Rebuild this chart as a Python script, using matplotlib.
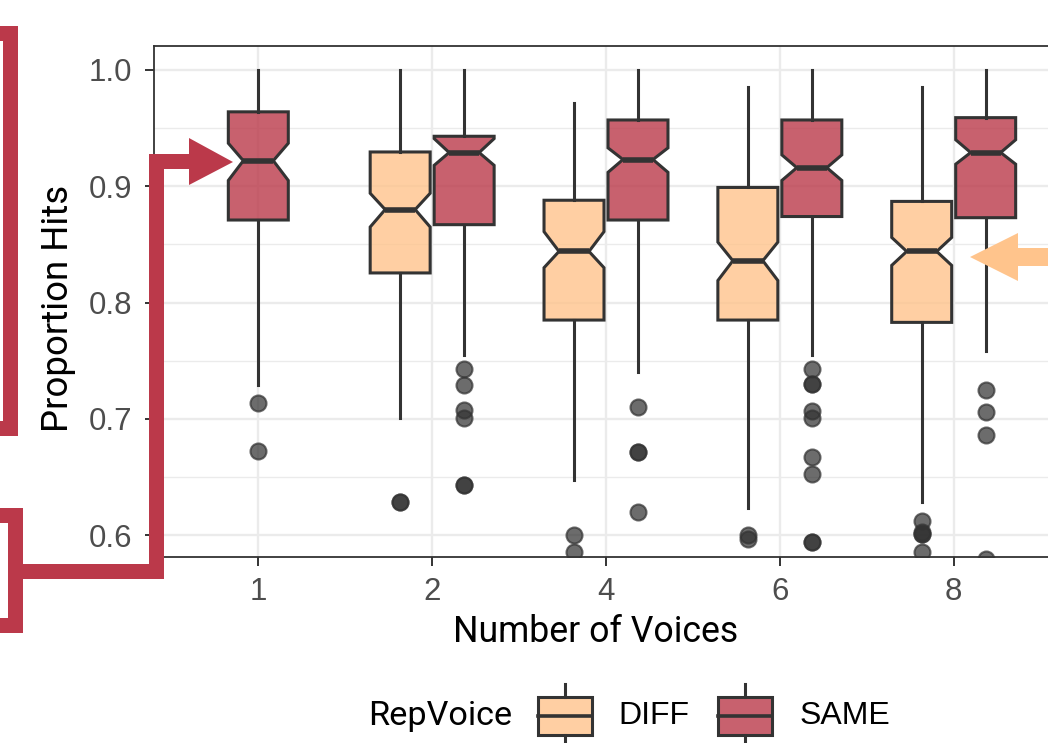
import matplotlib
matplotlib.use("Agg")
import matplotlib.pyplot as plt
from matplotlib.colors import to_rgba
from matplotlib.transforms import Affine2D
from matplotlib.patches import Polygon, Rectangle
from matplotlib.lines import Line2D

# ---------------- data ----------------
voices = ["1", "2", "4", "6", "8"]
groups = ["DIFF", "SAME"]

# SAME series (one box per number of voices)
same_med    = [0.922, 0.929, 0.923, 0.916, 0.929]
same_q1     = [0.871, 0.867, 0.871, 0.874, 0.873]
same_q3     = [0.964, 0.943, 0.957, 0.957, 0.959]
same_cilo   = [0.905, 0.918, 0.912, 0.905, 0.919]
same_cihi   = [0.937, 0.941, 0.933, 0.927, 0.940]
same_whislo = [0.729, 0.755, 0.740, 0.755, 0.758]
same_whishi = [1.000, 1.000, 1.000, 1.000, 1.000]
same_fliers = [
    [0.714, 0.672],
    [0.743, 0.729, 0.708, 0.701, 0.643, 0.643],
    [0.710, 0.6715, 0.6715, 0.620],
    [0.743, 0.730, 0.730, 0.707, 0.701, 0.667, 0.653, 0.594, 0.594],
    [0.725, 0.706, 0.686, 0.580],
]

# DIFF series (no box for 1 voice)
diff_voices = ["2", "4", "6", "8"]
diff_med    = [0.880, 0.844, 0.836, 0.844]
diff_q1     = [0.8255, 0.785, 0.785, 0.783]
diff_q3     = [0.9295, 0.888, 0.899, 0.887]
diff_cilo   = [0.865, 0.830, 0.819, 0.832]
diff_cihi   = [0.894, 0.861, 0.852, 0.856]
diff_whislo = [0.701, 0.6475, 0.623, 0.629]
diff_whishi = [1.000, 0.972, 0.985, 0.985]
diff_fliers = [
    [0.629, 0.629],
    [0.600, 0.586],
    [0.600, 0.597],
    [0.612, 0.603, 0.601, 0.601, 0.586],
]

yticks = [0.6, 0.7, 0.8, 0.9, 1.0]
ytick_labels = ["0.6", "0.7", "0.8", "0.9", "1.0"]

# ---------------- style ----------------
RED = "#BB394A"
ORANGE = "#FFC48C"
EDGE = "#333333"
W, H = 1048, 743
TITLE_FONT = ["Roboto", "DejaVu Sans"]
TICK_FONT = ["Liberation Sans", "DejaVu Sans"]

fig = plt.figure(figsize=(W / 100, H / 100), dpi=100)
pix = Affine2D().scale(1 / W, -1 / H).translate(0, 1) + fig.transFigure

ax_left, ax_right, ax_top, ax_bot = 154, 1058, 46, 557
ax = fig.add_axes([ax_left / W, (H - ax_bot) / H,
                   (ax_right - ax_left) / W, (ax_bot - ax_top) / H])

xpos = {v: i + 1 for i, v in enumerate(voices)}
offset = 0.184
bw = 0.345


def make_stats(med, q1, q3, cilo, cihi, wlo, whi, fl):
    return [dict(med=m, q1=a, q3=b, cilo=c, cihi=d, whislo=e, whishi=f, fliers=g)
            for m, a, b, c, d, e, f, g in zip(med, q1, q3, cilo, cihi, wlo, whi, fl)]


def draw(stats, positions, color):
    ax.bxp(stats, positions=positions, widths=bw, shownotches=True,
           patch_artist=True, showcaps=False,
           boxprops=dict(facecolor=to_rgba(color, 0.8), edgecolor=EDGE, linewidth=2.2),
           whiskerprops=dict(color=EDGE, linewidth=2.2),
           medianprops=dict(color=EDGE, linewidth=4.0, solid_capstyle="butt"),
           flierprops=dict(marker="o", markerfacecolor=EDGE, markeredgecolor=EDGE,
                           markersize=11.5, alpha=0.72, linestyle="none",
                           markeredgewidth=1.5),
           manage_ticks=False, zorder=3)


same_stats = make_stats(same_med, same_q1, same_q3, same_cilo, same_cihi,
                        same_whislo, same_whishi, same_fliers)
diff_stats = make_stats(diff_med, diff_q1, diff_q3, diff_cilo, diff_cihi,
                        diff_whislo, diff_whishi, diff_fliers)

same_pos = [xpos[v] + (offset if v in diff_voices else 0.0) for v in voices]
diff_pos = [xpos[v] - offset for v in diff_voices]

draw(diff_stats, diff_pos, ORANGE)
draw(same_stats, same_pos, RED)

ax.set_xlim(0.4, 5.6)
ax.set_ylim(0.5813, 1.0206)
ax.set_xticks(range(1, len(voices) + 1))
ax.set_xticklabels(voices)
ax.set_yticks(yticks)
ax.set_yticklabels(ytick_labels)
ax.set_yticks([0.65, 0.75, 0.85, 0.95], minor=True)
ax.grid(True, which="major", color="#EBEBEB", linewidth=1.7, zorder=0)
ax.grid(True, which="minor", axis="y", color="#EBEBEB", linewidth=1.0, zorder=0)
ax.set_axisbelow(True)
ax.tick_params(axis="both", which="major", colors=EDGE, width=1.4, length=6.5,
               labelsize=22.5, labelcolor="#4D4D4D")
ax.tick_params(axis="x", pad=8)
ax.tick_params(axis="y", pad=9)
ax.tick_params(which="minor", length=0)
for lab in ax.get_xticklabels() + ax.get_yticklabels():
    lab.set_fontfamily(TICK_FONT)
for s in ax.spines.values():
    s.set_color(EDGE)
    s.set_linewidth(1.3)

renderer = fig.canvas.get_renderer()


def fit_text(x, y, s, target_w, **kw):
    t = fig.text(x, y, s, fontsize=30, family=TITLE_FONT, **kw)
    bb = t.get_window_extent(renderer)
    span = bb.height if kw.get("rotation") == 90 else bb.width
    t.set_fontsize(30 * target_w / span)
    return t


# axis titles (placed to match the reference)
fit_text(595.5 / W, 1 - 632 / H, "Number of Voices", 285, ha="center", va="center")
fit_text(58 / W, 1 - 308.5 / H, "Proportion Hits", 247, ha="center", va="center",
         rotation=90)

# ---------------- legend (drawn by hand) ----------------
fit_text(368 / W, 1 - 716 / H, "RepVoice", 144, ha="left", va="center")
for key_x, color, label, text_x in [(538, ORANGE, "DIFF", 618), (718, RED, "SAME", 800)]:
    fig.add_artist(Rectangle((key_x, 697), 54, 38, transform=pix,
                             facecolor=to_rgba(color, 0.8), edgecolor=EDGE,
                             linewidth=2.2, zorder=5))
    cx = key_x + 27
    fig.add_artist(Line2D([cx, cx], [684, 697], transform=pix, color=EDGE, lw=2.2, zorder=5))
    fig.add_artist(Line2D([cx, cx], [735, 748], transform=pix, color=EDGE, lw=2.2, zorder=5))
    fig.add_artist(Line2D([key_x, key_x + 54], [716, 716], transform=pix, color=EDGE,
                          lw=2.6, zorder=6))
    fig.text(text_x / W, 1 - 716 / H, label, fontsize=23, family=TICK_FONT,
             va="center", ha="left")

# ---------------- annotation brackets and arrows ----------------
lw_px = 15 * 0.72
fig.add_artist(Line2D([-5, 9.5, 9.5, -5], [32.5, 32.5, 427.5, 427.5], transform=pix,
                      color=RED, lw=lw_px, solid_joinstyle="miter",
                      solid_capstyle="butt", zorder=10))
fig.add_artist(Line2D([-5, 15, 15, -5], [514.5, 514.5, 624.5, 624.5], transform=pix,
                      color=RED, lw=lw_px, solid_joinstyle="miter",
                      solid_capstyle="butt", zorder=10))
fig.add_artist(Line2D([15, 155.5, 155.5, 192], [571, 571, 160.5, 160.5], transform=pix,
                      color=RED, lw=lw_px, solid_joinstyle="miter",
                      solid_capstyle="butt", zorder=10))
fig.add_artist(Polygon([(189, 138), (189, 185), (233, 162)], closed=True,
                       transform=pix, facecolor=RED, edgecolor="none", zorder=10))
fig.add_artist(Polygon([(970, 257), (1018, 233), (1018, 248), (1060, 248),
                        (1060, 266), (1018, 266), (1018, 281)], closed=True,
                       transform=pix, facecolor=ORANGE, edgecolor="none", zorder=10))

fig.savefig("out.png", dpi=100)
